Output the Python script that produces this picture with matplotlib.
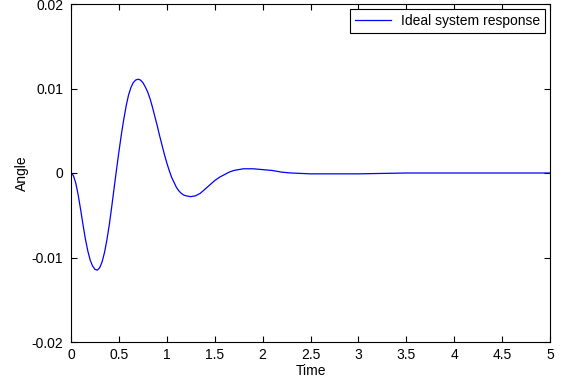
import matplotlib
matplotlib.use("Agg")
import matplotlib.pyplot as plt

time = [0.000, 0.025, 0.050, 0.075, 0.100, 0.125, 0.150, 0.175, 0.200, 0.225,
        0.250, 0.275, 0.300, 0.325, 0.350, 0.375, 0.400, 0.425, 0.450, 0.475,
        0.500, 0.525, 0.550, 0.575, 0.600, 0.625, 0.650, 0.675, 0.700, 0.725,
        0.750, 0.775, 0.800, 0.825, 0.850, 0.875, 0.900, 0.925, 0.950, 0.975,
        1.000, 1.025, 1.050, 1.075, 1.100, 1.125, 1.150, 1.175, 1.200, 1.250,
        1.300, 1.350, 1.400, 1.450, 1.500, 1.550, 1.600, 1.650, 1.700, 1.750,
        1.800, 1.900, 2.000, 2.100, 2.200, 2.300, 2.500, 3.000, 3.500, 4.000,
        5.000]
angle = [0.0, -0.0003, -0.0012, -0.0026, -0.0043, -0.0061, -0.0078, -0.0092,
         -0.0103, -0.0110, -0.0114, -0.0115, -0.0112, -0.0105, -0.0094, -0.0079,
         -0.0061, -0.0040, -0.0018, 0.0004, 0.0025, 0.0045, 0.0063, 0.0079,
         0.0092, 0.0101, 0.0107, 0.0110, 0.0111, 0.0110, 0.0107, 0.0102,
         0.0096, 0.0088, 0.0078, 0.0067, 0.0056, 0.0044, 0.0033, 0.0022,
         0.0012, 0.0003, -0.0005, -0.0011, -0.0017, -0.0021, -0.0024, -0.0026,
         -0.0027, -0.0028, -0.0027, -0.0024, -0.0019, -0.0014, -0.0009, -0.0005,
         -0.0002, 0.0001, 0.0003, 0.0004, 0.0005, 0.0005, 0.0004, 0.0003,
         0.0001, 0.0000, -0.0001, -0.0001, 0.0000, 0.0000, 0.0000]
xticks = [0, 0.5, 1, 1.5, 2, 2.5, 3, 3.5, 4, 4.5, 5]
xticklabels = ["0", "0.5", "1", "1.5", "2", "2.5", "3", "3.5", "4", "4.5", "5"]
yticks = [-0.02, -0.01, 0, 0.01, 0.02]
yticklabels = ["-0.02", "-0.01", "0", "0.01", "0.02"]

plt.rcParams['font.family'] = ['Liberation Sans', 'DejaVu Sans']
fig = plt.figure(figsize=(5.63, 3.82), dpi=100)
ax = fig.add_axes([71/563, 40/382, 479/563, 338/382])
ax.plot(time, angle, color='#0000ff', lw=0.9, label='Ideal system response')
ax.set_xlim(0, 5)
ax.set_ylim(-0.02, 0.02)
ax.set_xticks(xticks)
ax.set_xticklabels(xticklabels)
ax.set_yticks(yticks)
ax.set_yticklabels(yticklabels)
ax.tick_params(direction='in', top=True, right=True, length=4, width=0.8,
               labelsize=10)
ax.tick_params(axis='y', pad=5.5)
ax.tick_params(axis='x', pad=4)
for s in ax.spines.values():
    s.set_linewidth(0.8)
ax.set_xlabel('Time', fontsize=10, labelpad=1.5)
ax.set_ylabel('Angle', fontsize=10, labelpad=2)
leg = ax.legend(loc='upper right', fontsize=10, fancybox=False, edgecolor='black',
                framealpha=1, handlelength=2.6, handletextpad=0.72,
                borderaxespad=0.35, borderpad=0.35)
leg.get_frame().set_linewidth(0.8)
fig.savefig('out.png', dpi=100)
